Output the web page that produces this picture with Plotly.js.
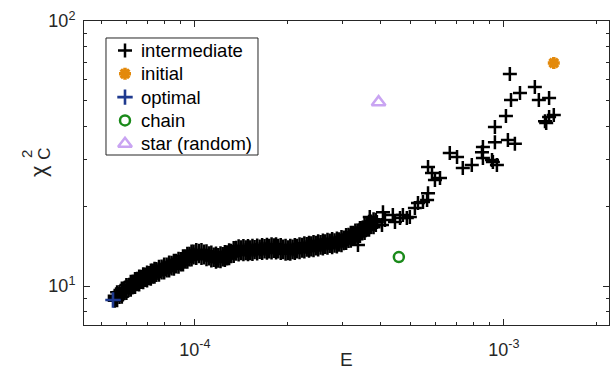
<!DOCTYPE html>
<html><head><meta charset="utf-8">
<script src="https://cdn.plot.ly/plotly-3.0.1.min.js"></script>
<style>html,body{margin:0;padding:0;background:#fff}#chart{width:614px;height:372px}</style>
</head><body><div id="chart"></div>
<script>
// dense band of intermediate points: E grid with lower / middle / upper chi readings
const E_band = [5.5e-5,5.7e-5,5.9e-5,6.1e-5,6.3e-5,6.5e-5,6.7e-5,6.9e-5,7.1e-5,7.3e-5,7.5e-5,7.8e-5,8.1e-5,8.4e-5,8.7e-5,9.0e-5,9.3e-5,9.6e-5,9.9e-5,1.03e-4,1.07e-4,1.11e-4,1.15e-4,1.19e-4,1.23e-4,1.27e-4,1.31e-4,1.36e-4,1.41e-4,1.46e-4,1.51e-4,1.56e-4,1.62e-4,1.68e-4,1.74e-4,1.80e-4,1.86e-4,1.93e-4,2.00e-4,2.07e-4,2.14e-4,2.22e-4,2.30e-4,2.38e-4,2.46e-4,2.55e-4,2.64e-4,2.73e-4,2.83e-4,2.93e-4,3.03e-4,3.14e-4,3.25e-4,3.36e-4,3.48e-4,3.60e-4,3.72e-4,3.85e-4];
const chi_mid = [9.0,9.3,9.6,9.9,10.15,10.4,10.6,10.8,10.95,11.15,11.3,11.55,11.75,11.95,12.15,12.35,12.65,12.95,13.15,13.3,13.15,13.0,12.85,12.77,12.9,13.05,13.3,13.6,13.67,13.67,13.67,13.72,13.78,13.82,13.86,13.9,13.85,13.75,13.67,13.75,13.85,13.95,14.05,14.12,14.2,14.3,14.4,14.5,14.55,14.65,14.9,15.2,15.5,15.8,16.2,16.7,17.1,17.4];
const chi_up = [9.2,9.5,9.8,10.1,10.4,10.65,10.85,11.05,11.2,11.45,11.6,11.85,12.05,12.25,12.45,12.65,12.95,13.25,13.5,13.6,13.5,13.3,13.15,13.1,13.2,13.4,13.6,13.95,14.0,14.0,14.0,14.05,14.1,14.15,14.2,14.25,14.2,14.1,14.0,14.1,14.2,14.3,14.4,14.5,14.55,14.65,14.75,14.85,14.9,15.0,15.25,15.6,15.9,16.2,16.6,17.1,17.5,17.8];
const chi_lo = [8.8,9.1,9.4,9.65,9.9,10.15,10.35,10.55,10.7,10.85,11.0,11.25,11.45,11.65,11.85,12.05,12.35,12.6,12.8,12.95,12.8,12.7,12.55,12.45,12.6,12.7,12.95,13.25,13.3,13.3,13.3,13.4,13.45,13.5,13.5,13.55,13.5,13.4,13.3,13.4,13.5,13.6,13.7,13.75,13.85,13.95,14.05,14.15,14.2,14.3,14.5,14.8,15.1,15.4,15.8,16.3,16.7,17.0];
// second set of band readings, between the E grid values
const E_half = [5.6e-5,5.8e-5,6.0e-5,6.2e-5,6.4e-5,6.6e-5,6.8e-5,7.0e-5,7.2e-5,7.4e-5,7.65e-5,7.95e-5,8.25e-5,8.55e-5,8.85e-5,9.15e-5,9.45e-5,9.75e-5,1.01e-4,1.05e-4,1.09e-4,1.13e-4,1.17e-4,1.21e-4,1.25e-4,1.29e-4,1.335e-4,1.385e-4,1.435e-4,1.485e-4,1.535e-4,1.59e-4,1.65e-4,1.71e-4,1.77e-4,1.83e-4,1.895e-4,1.965e-4,2.035e-4,2.105e-4,2.18e-4,2.26e-4,2.34e-4,2.42e-4,2.505e-4,2.595e-4,2.685e-4,2.78e-4,2.88e-4,2.98e-4,3.085e-4,3.195e-4,3.305e-4,3.42e-4,3.54e-4,3.66e-4,3.785e-4];
const chi_half_up = [9.47,9.78,10.09,10.38,10.64,10.87,11.07,11.26,11.44,11.62,11.83,12.06,12.26,12.47,12.68,12.94,13.25,13.51,13.69,13.69,13.54,13.38,13.26,13.29,13.43,13.64,13.92,14.12,14.15,14.15,14.18,14.23,14.28,14.32,14.37,14.37,14.28,14.19,14.19,14.28,14.39,14.49,14.58,14.66,14.75,14.85,14.96,15.04,15.11,15.30,15.58,15.89,16.2,16.56,17.03,17.49,17.85];
const chi_half_lo = [8.83,9.12,9.41,9.68,9.92,10.13,10.33,10.5,10.66,10.84,11.03,11.24,11.44,11.63,11.82,12.06,12.35,12.59,12.77,12.77,12.62,12.48,12.36,12.39,12.53,12.72,12.98,13.16,13.19,13.19,13.22,13.27,13.32,13.36,13.39,13.39,13.32,13.23,13.23,13.32,13.41,13.51,13.6,13.66,13.75,13.85,13.94,14.02,14.09,14.26,14.52,14.81,15.1,15.44,15.87,16.31,16.65];
// scattered intermediate points (upper part)
const E_scatter = [3.22e-4,3.30e-4,3.37e-4,3.42e-4,3.63e-4,3.68e-4,3.88e-4,4.03e-4,4.06e-4,4.12e-4,4.37e-4,4.44e-4,4.61e-4,4.71e-4,4.85e-4,4.96e-4,5.15e-4,5.27e-4,5.47e-4,5.64e-4,5.68e-4,5.68e-4,5.85e-4,5.98e-4,6.21e-4,6.68e-4,7.05e-4,7.36e-4,7.87e-4,8.49e-4,8.55e-4,9.21e-4,8.55e-4,9.15e-4,9.49e-4,9.35e-4,9.35e-4,1.015e-3,1.03e-3,1.085e-3,1.054e-3,1.127e-3,1.045e-3,1.259e-3,1.297e-3,1.40e-3,1.358e-3,1.40e-3,1.45e-3,1.37e-3];
const chi_scatter = [15.85,15.2,14.28,16.27,16.55,18.21,17.44,16.98,19.0,17.75,18.53,17.44,18.06,18.53,18.06,18.21,19.7,20.56,20.75,21.1,22.4,28.1,26.7,25.1,25.56,31.8,30.7,27.9,28.6,32.0,30.4,29.4,33.5,29.9,28.6,34.9,39.8,43.8,35.6,34.4,50.3,53.5,63.1,56.4,50.3,51.2,41.9,43.4,44.2,41.2];
const initialE = [1.45e-3], initialChi = [69.4];
const optimalE = [5.43e-5], optimalChi = [8.86];
const chainE = [4.57e-4], chainChi = [12.86];
const starE = [3.93e-4], starChi = [49.4];

const legendNames = ['intermediate','initial','optimal','chain','star (random)'];
const xMinor = [5e-5,6e-5,7e-5,8e-5,9e-5,2e-4,3e-4,4e-4,5e-4,6e-4,7e-4,8e-4,9e-4,2e-3];
const yMinor = [8,9,20,30,40,50,60,70,80,90];

const interE = E_band.concat(E_band, E_band, E_half, E_half, E_scatter);
const interChi = chi_mid.concat(chi_up, chi_lo, chi_half_up, chi_half_lo, chi_scatter);

const styles = [
  {symbol:'cross-thin-open', size:10, color:'#000', line:{width:2.5, color:'#000'}},
  {symbol:'asterisk-open', size:10, color:'#e3890b', line:{width:3.5, color:'#e3890b'}},
  {symbol:'cross-thin-open', size:11, color:'#1f3a8f', line:{width:2.6, color:'#1f3a8f'}},
  {symbol:'circle-open', size:10, color:'#1a8a1a', line:{width:2.5, color:'#1a8a1a'}},
  {symbol:'triangle-up-open', size:12, color:'#c9a4f2', line:{width:2.5, color:'#c9a4f2'}}
];
const seriesX = [interE, initialE, optimalE, chainE, starE];
const seriesY = [interChi, initialChi, optimalChi, chainChi, starChi];

const traces = seriesX.map((xs, i) => ({
  type:'scatter', mode:'markers', name:legendNames[i], x:xs, y:seriesY[i],
  marker:styles[i], showlegend:false, hoverinfo:'skip'
}));

// legend drawn in a fixed 0..1 overlay frame
const legRowsY = [0.903, 0.8263, 0.7497, 0.673, 0.5964];
const legSymX = 0.0781, legTextX = 0.105;
legendNames.forEach((n, i) => {
  traces.push({type:'scatter', mode:'markers', x:[legSymX], y:[legRowsY[i]], xaxis:'x2', yaxis:'y2',
    marker:styles[i], showlegend:false, hoverinfo:'skip', cliponaxis:false});
});

const axisCommon = {
  type:'log', ticks:'inside', ticklen:6, tickwidth:1, tickcolor:'#262626',
  showline:true, linecolor:'#262626', linewidth:1, mirror:'allticks',
  showgrid:false, zeroline:false, tickmode:'array',
  tickfont:{size:18, color:'#262626'}
};

const annotations = [
  {text:'E', xref:'paper', yref:'paper', x:0.5, y:-0.115, xanchor:'center', yanchor:'middle', showarrow:false, font:{size:19, color:'#262626'}},
  {text:'χ', xref:'paper', yref:'paper', x:-0.0857, y:0.5066, xanchor:'center', yanchor:'middle', textangle:-90, showarrow:false, font:{size:22, color:'#262626'}},
  {text:'C', xref:'paper', yref:'paper', x:-0.075, y:0.562, xanchor:'center', yanchor:'middle', textangle:-90, showarrow:false, font:{size:17, color:'#262626'}},
  {text:'2', xref:'paper', yref:'paper', x:-0.111, y:0.562, xanchor:'center', yanchor:'middle', textangle:-90, showarrow:false, font:{size:15, color:'#262626'}}
];
legendNames.forEach((n, i) => {
  annotations.push({text:n, xref:'paper', yref:'paper', x:legTextX, y:legRowsY[i], xanchor:'left', yanchor:'middle',
    showarrow:false, font:{size:18.5, color:'#000'}});
});

const layout = {
  width:614, height:372,
  margin:{l:84, r:5, t:21, b:47, pad:0},
  paper_bgcolor:'#fff', plot_bgcolor:'#fff',
  font:{family:'Liberation Sans, Arial, Helvetica, sans-serif', size:18, color:'#262626'},
  showlegend:false,
  xaxis:Object.assign({}, axisCommon, {
    range:[-4.359, -2.660], tickvals:[1e-4, 1e-3], ticktext:['10<sup>-4</sup>','10<sup>-3</sup>'],
    ticklabelstandoff:8,
    minor:{tickmode:'array', tickvals:xMinor, ticks:'inside', ticklen:3, tickcolor:'#262626', showgrid:false}
  }),
  yaxis:Object.assign({}, axisCommon, {
    range:[0.853, 2.0], tickvals:[10, 100], ticktext:['10<sup>1</sup>','10<sup>2</sup>'],
    ticklabelstandoff:4,
    minor:{tickmode:'array', tickvals:yMinor, ticks:'inside', ticklen:3, tickcolor:'#262626', showgrid:false}
  }),
  xaxis2:{overlaying:'x', range:[0,1], visible:false, fixedrange:true},
  yaxis2:{overlaying:'y', range:[0,1], visible:false, fixedrange:true},
  shapes:[
    {type:'rect', xref:'paper', yref:'paper', x0:0.0419, x1:0.3314, y0:0.5592, y1:0.9441,
     line:{color:'#262626', width:1}, fillcolor:'#fff', layer:'below'}
  ],
  annotations:annotations
};

Plotly.newPlot('chart', traces, layout, {displayModeBar:false, staticPlot:true});
</script></body></html>
